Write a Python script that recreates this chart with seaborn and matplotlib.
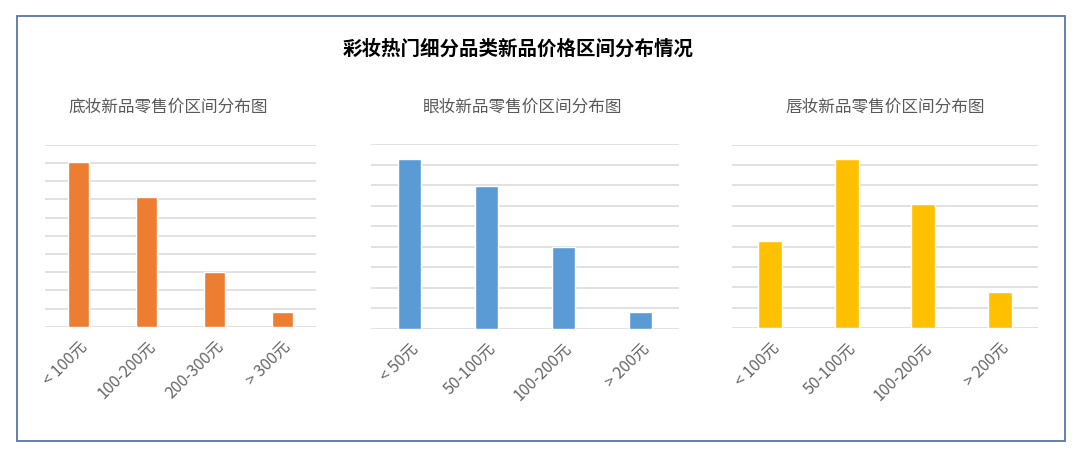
import matplotlib
matplotlib.use("Agg")
import matplotlib.pyplot as plt
from matplotlib.patches import Rectangle
import numpy as np
import pandas as pd
import seaborn as sns

# data (percent of new products per price band)
base_labels = ["< 100元", "100-200元", "200-300元", "> 300元"]
base_values = [45.2, 35.5, 15.0, 4.0]

eye_labels = ["< 50元", "50-100元", "100-200元", "> 200元"]
eye_values = [41.3, 34.7, 19.9, 4.0]

lip_labels = ["< 100元", "50-100元", "100-200元", "> 200元"]
lip_values = [21.4, 41.5, 30.4, 8.8]

main_title = "彩妆热门细分品类新品价格区间分布情况"
sub_titles = ["底妆新品零售价区间分布图", "眼妆新品零售价区间分布图", "唇妆新品零售价区间分布图"]

sns.set_theme(style="white")
plt.rcParams['font.family'] = ['Noto Sans CJK SC', 'DejaVu Sans']

fig = plt.figure(figsize=(10.8, 4.55), dpi=100)

# outer frame
fig.patches.append(Rectangle((17 / 1080, 1 - 441 / 455), 1048 / 1080, 425 / 455,
                             transform=fig.transFigure, fill=False,
                             edgecolor="#5b76a6", linewidth=1.3))

fig.text(518 / 1080, 1 - 49 / 455, main_title, ha="center", va="center",
         fontsize=14, fontweight="bold", color="black")

panels = [
    (base_labels, base_values, "#ED7D31", 50, [45, 316, 144.7, 326.7], 168),
    (eye_labels, eye_values, "#5B9BD5", 45, [371, 679, 144.0, 328.7], 523),
    (lip_labels, lip_values, "#FFC000", 45, [732, 1038, 144.7, 328.0], 885),
]

for (labels, values, color, ymax, (x0, x1, ytop, ybot), tx), sub in zip(panels, sub_titles):
    ax = fig.add_axes([x0 / 1080, 1 - ybot / 455, (x1 - x0) / 1080, (ybot - ytop) / 455])
    df = pd.DataFrame({"band": labels, "share": values})
    sns.barplot(data=df, x="band", y="share", color=color, saturation=1,
                width=0.31, ax=ax)
    ax.set_ylim(0, ymax)
    ax.set_yticks(np.arange(0, ymax + 1, 5))
    ax.set_yticklabels([])
    ax.yaxis.grid(True, color="#d9d9d9", linewidth=1.1)
    ax.set_axisbelow(True)
    for s in ax.spines.values():
        s.set_visible(False)
    ax.tick_params(axis="both", length=0)
    ax.set_xlabel("")
    ax.set_ylabel("")
    for lab in ax.get_xticklabels():
        lab.set_rotation(45)
        lab.set_ha("right")
        lab.set_rotation_mode("anchor")
        lab.set_fontsize(11.5)
        lab.set_color("#666666")
    ax.tick_params(axis="x", pad=8)
    fig.text(tx / 1080, 1 - 107 / 455, sub, ha="center", va="center",
             fontsize=12, color="#595959")

fig.savefig("out.png", dpi=100)
